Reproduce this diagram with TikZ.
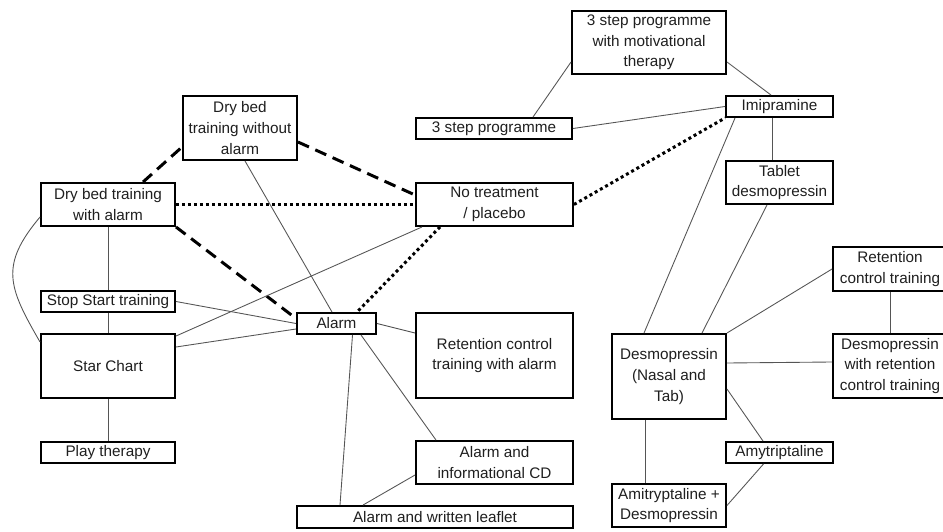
\documentclass[tikz,border=0pt]{standalone}
\usepackage{fontspec}
\setmainfont{Liberation Sans}
\usepackage{xcolor}
\usepackage{tikz}
\usetikzlibrary{positioning}
\definecolor{tinta}{HTML}{1F1F1F}
\definecolor{gris}{HTML}{555555}
\tikzset{
  every picture/.style={font=\fontsize{8.7}{11.7}\selectfont},
  caja/.style 2 args={draw=black, text=tinta, fill=white, line width=1.1pt, inner sep=0pt,
              minimum width=#1cm, minimum height=#2cm, align=center},
  linea/.style={gris, line width=0.5pt},
  lineat/.style={black, line width=1.7pt, dash pattern=on 0.24cm off 0.14cm},
  lineap/.style={black, line width=1.7pt, dash pattern=on 0.06cm off 0.06cm},
}

\begin{document}
\begin{tikzpicture}
  \useasboundingbox (0,0) rectangle (18.86,10.62);
  \node[caja={2.28}{1.28}] (dbs) at (4.80,8.06) {Dry bed\\training without\\alarm};
  \node[caja={2.68}{0.86}] (dbc) at (2.16,6.53) {Dry bed training\\with alarm};
  \node[caja={3.14}{0.86}] (nt) at (9.89,6.53) {No treatment\\/ placebo};
  \node[caja={3.08}{1.26}] (tpm) at (12.98,9.77) {3 step programme\\with motivational\\therapy};
  \node[caja={3.12}{0.42}] (tp) at (9.88,8.05) {3 step programme};
  \node[caja={2.14}{0.42}] (imi) at (15.59,8.49) {Imipramine};
  \node[caja={2.14}{0.86}] (dtab) at (15.59,6.97) {Tablet\\desmopressin};
  \node[caja={2.28}{0.88}] (rc) at (17.80,5.24) {Retention\\control training};
  \node[caja={2.28}{1.28}] (drc) at (17.80,3.30) {Desmopressin\\with retention\\control training};
  \node[caja={2.28}{1.70}] (des) at (13.38,3.09) {Desmopressin\\(Nasal and\\Tab)};
  \node[caja={2.14}{0.42}] (amy) at (15.59,1.57) {Amytriptaline};
  \node[caja={2.28}{0.86}] (amd) at (13.38,0.51) {Amitryptaline +\\Desmopressin};
  \node[caja={2.68}{0.42}] (ss) at (2.16,4.59) {Stop Start training};
  \node[caja={2.68}{1.28}] (sc) at (2.16,3.30) {Star Chart};
  \node[caja={2.68}{0.42}] (pt) at (2.16,1.57) {Play therapy};
  \node[caja={1.58}{0.42}] (al) at (6.73,4.15) {Alarm};
  \node[caja={3.14}{1.70}] (rca) at (9.89,3.51) {Retention control\\training with alarm};
  \node[caja={3.14}{0.86}] (acd) at (9.89,1.37) {Alarm and\\informational CD};
  \node[caja={5.52}{0.44}] (awl) at (8.70,0.28) {Alarm and written leaflet};

  \draw[lineat] ([xshift=0.7cm]dbc.north) -- ([yshift=-0.38cm]dbs.west);
  \draw[lineat] ([yshift=-0.28cm]dbs.east) -- ([yshift=0.19cm]nt.west);
  \draw[lineat] (dbc.south east) -- ([yshift=0.1cm]al.west);
  \draw[lineap] (dbc.east) -- (nt.west); \draw[lineap] (nt.east) -- (imi.south west);
  \draw[lineap] ([xshift=-1.09cm]nt.south) -- ([xshift=0.41cm]al.north);

  \draw[linea] ([xshift=0.1cm]dbs.south) -- ([xshift=-0.09cm]al.north);
  \draw[linea] (dbc.south) -- (ss.north); \draw[linea] (ss.south) -- (sc.north); \draw[linea] (sc.south) -- (pt.north);
  \draw[linea] ([yshift=-0.25cm]dbc.west) to[out=230, in=120, looseness=1.3] ([yshift=0.48cm]sc.west);
  \draw[linea] (ss.east) -- (al.west);
  \draw[linea] ([yshift=0.38cm]sc.east) -- ([yshift=-0.11cm]al.west);
  \draw[linea] ([yshift=-0.06cm]sc.north east) -- ([xshift=0.14cm]nt.south west);
  \draw[linea] (al.east) -- ([yshift=0.45cm]rca.west);
  \draw[linea] ([xshift=0.49cm]al.south) -- ([xshift=-1.17cm]acd.north);
  \draw[linea] ([xshift=0.32cm]al.south) -- ([xshift=-1.9cm]awl.north);
  \draw[linea] ([yshift=-0.25cm]acd.west) -- ([xshift=-1.44cm]awl.north);

  \draw[linea] ([xshift=0.78cm]tp.north) -- ([yshift=-0.39cm]tpm.west);
  \draw[linea] (tp.east) -- (imi.west);
  \draw[linea] ([yshift=-0.39cm]tpm.east) -- ([xshift=-0.17cm]imi.north);
  \draw[linea] ([xshift=-0.15cm]imi.south) -- ([xshift=-0.15cm]dtab.north);
  \draw[linea] ([xshift=0.2cm]imi.south west) -- ([xshift=-0.5cm]des.north);
  \draw[linea] ([xshift=-0.25cm]dtab.south) -- ([xshift=0.66cm]des.north);
  \draw[linea] (des.north east) -- (rc.west);
  \draw[linea] ([yshift=0.27cm]des.east) -- ([yshift=0.08cm]drc.west);
  \draw[linea] (rc.south) -- (drc.north);
  \draw[linea] ([yshift=-0.25cm]des.east) -- ([xshift=-0.33cm]amy.north);
  \draw[linea] ([xshift=-0.48cm]des.south) -- ([xshift=-0.48cm]amd.north);
  \draw[linea] ([xshift=-0.32cm]amy.south) -- (amd.east);
\end{tikzpicture}
\end{document}
